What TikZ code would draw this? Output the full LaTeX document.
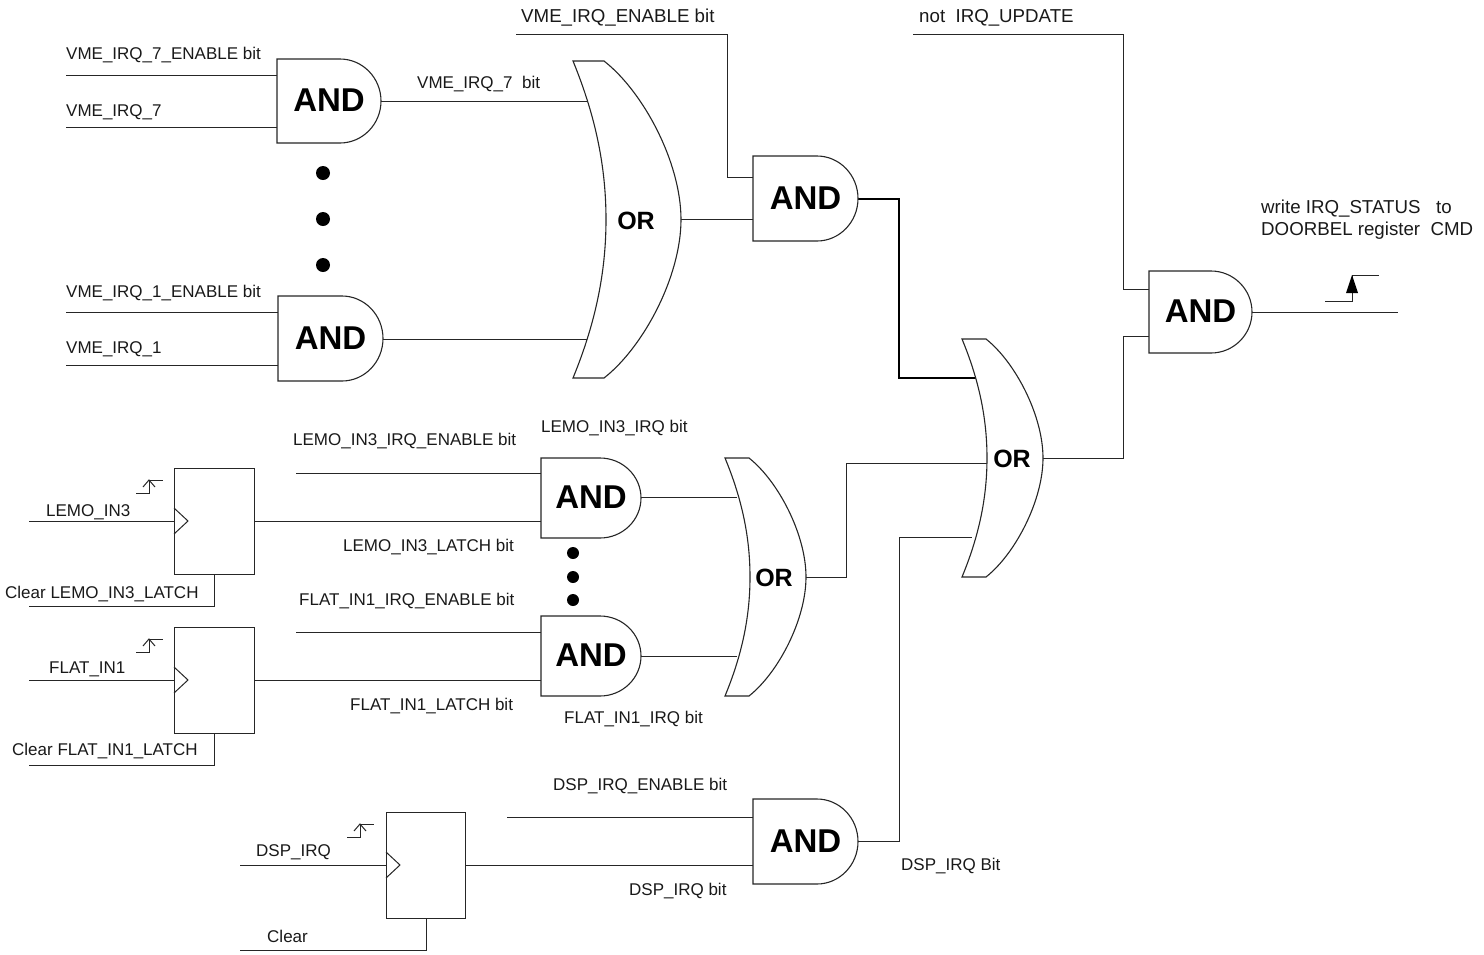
\documentclass[tikz,border=0pt]{standalone}
\usepackage{fontspec}
\setmainfont{Liberation Sans}
\tikzset{
  every picture/.style={x=1pt,y=-1pt,line join=miter},
  wire/.style={draw=black!85,line width=1pt},
  heavywire/.style={draw=black,line width=1.7pt},
  gate/.style={draw=black!85,line width=1.1pt,fill=white},
  andlabel/.style={font=\fontsize{33}{33}\selectfont\bfseries,inner sep=0pt,anchor=center},
  orlabel/.style={font=\fontsize{25}{25}\selectfont\bfseries,inner sep=0pt,anchor=center},
  lbl/.style={font=\fontsize{17}{17}\selectfont,inner sep=0pt,anchor=base west,text=black!90},
  biglbl/.style={lbl,font=\fontsize{18.7}{19}\selectfont},
  dot/.style={circle,fill=black,inner sep=0pt,minimum size=#1},
}
\newcommand{\andgate}[5]{%
  \pgfmathsetmacro\gmid{(#3+#5)/2}\pgfmathsetmacro\grad{(#5-#3)/2}%
  \draw[gate] (#2,#3) -- ({#4-41},#3) .. controls ({#4-18.4},#3) and (#4,{\gmid-0.55*\grad}) .. (#4,\gmid)
    .. controls (#4,{\gmid+0.55*\grad}) and ({#4-18.4},#5) .. ({#4-41},#5) -- (#2,#5) -- cycle;
  \node[andlabel] (#1) at ({(#2+#4)/2},{\gmid-0.5}) {AND};
}
% name, xl, xt, xin, xout, ytop, ybot, xtext
\newcommand{\orgate}[8]{%
  \pgfmathsetmacro\gmid{(#6+#7)/2}\pgfmathsetmacro\grad{(#7-#6)/2}%
  \draw[gate] (#2,#6) -- (#3,#6)
    .. controls ({#3+0.51*(#5-#3)},{#6+0.193*\grad}) and (#5,{\gmid-0.36*\grad}) .. (#5,\gmid)
    .. controls (#5,{\gmid+0.36*\grad}) and ({#3+0.51*(#5-#3)},{#7-0.193*\grad}) .. (#3,#7)
    -- (#2,#7)
    .. controls ({#2+0.68*(#4-#2)},{#7-0.345*\grad}) and (#4,{\gmid+0.335*\grad}) .. (#4,\gmid)
    .. controls (#4,{\gmid-0.335*\grad}) and ({#2+0.68*(#4-#2)},{#6+0.345*\grad}) .. (#2,#6) -- cycle;
  \node[orlabel] (#1) at (#8,{\gmid+1.3}) {OR};
}
% name, x1, y1, x2, y2
\newcommand{\latchbox}[5]{%
  \node[draw=black!85,line width=1.1pt,fill=white,inner sep=0pt,minimum width=#4-#2,minimum height=#5-#3,anchor=north west] (#1) at (#2,#3) {};
  \draw[wire] (#2,{(#3+#5)/2-13}) -- ({#2+14},{(#3+#5)/2}) -- (#2,{(#3+#5)/2+13});
}
\newcommand{\smalledge}[2]{%
  \draw[wire] (#1,#2) -- ({#1+13},#2) -- ({#1+13},{#2-13}) -- ({#1+27},{#2-13});
  \draw[wire] ({#1+7},{#2-6}) -- ({#1+13},{#2-13}) -- ({#1+19},{#2-6});
}
\newcommand{\tl}[4]{\node[lbl] (#1) at (#2,#3) {#4};}
\newcommand{\tlb}[4]{\node[biglbl] (#1) at (#2,#3) {#4};}
\begin{document}
\begin{tikzpicture}
\useasboundingbox (0,0) rectangle (1484,954);

% ---------- free wire ends and pins
\coordinate (f1a) at (66,75);   \coordinate (a1i1) at (277,75);
\coordinate (f1b) at (66,127);  \coordinate (a1i2) at (277,127);
\coordinate (a1o) at (381,101); \coordinate (o1i1) at (588,101);
\coordinate (f2a) at (66,312);  \coordinate (a2i1) at (278,312);
\coordinate (f2b) at (66,365);  \coordinate (a2i2) at (278,365);
\coordinate (a2o) at (383,339); \coordinate (o1i2) at (588,339);
\coordinate (o1o) at (681,219.5); \coordinate (a3i2) at (753,219.5);
\coordinate (f3) at (516,34);   \coordinate (b3) at (727,34); \coordinate (a3i1) at (753,177);
\coordinate (a3o) at (858,199); \coordinate (b3o) at (899,199); \coordinate (o3i1) at (977,378);
\coordinate (f4) at (913,34);   \coordinate (b4) at (1123,34); \coordinate (a4i1) at (1149,289);
\coordinate (o3o) at (1043,458); \coordinate (b5) at (1123,458); \coordinate (a4i2) at (1149,336);
\coordinate (a4o) at (1252,312); \coordinate (f5) at (1398,312);
\coordinate (f6) at (296,473);  \coordinate (a5i1) at (541,473);
\coordinate (l1o) at (254,521); \coordinate (a5i2) at (541,521);
\coordinate (f7) at (296,632);  \coordinate (a6i1) at (541,632);
\coordinate (l2o) at (254,680); \coordinate (a6i2) at (541,680);
\coordinate (a5o) at (641,497); \coordinate (o2i1) at (737,497);
\coordinate (a6o) at (641,656); \coordinate (o2i2) at (737,656);
\coordinate (o2o) at (806,577); \coordinate (b6) at (846,577); \coordinate (o3i2) at (987,463);
\coordinate (a7o) at (858,841); \coordinate (b7) at (899,841); \coordinate (o3i3) at (972,537);
\coordinate (f8) at (507,817);  \coordinate (a7i1) at (753,817);
\coordinate (l3o) at (465,865); \coordinate (a7i2) at (753,865);
\coordinate (f9) at (29,521);   \coordinate (l1c) at (174,521);
\coordinate (f10) at (29,606);  \coordinate (l1b) at (214,574);
\coordinate (f11) at (29,680);  \coordinate (l2c) at (174,680);
\coordinate (f12) at (29,765);  \coordinate (l2b) at (214,733);
\coordinate (f13) at (240,865); \coordinate (l3c) at (386,865);
\coordinate (f14) at (240,950); \coordinate (l3b) at (426,918);

% ---------- connectors
\draw[wire] (f1a) -- (a1i1);
\draw[wire] (f1b) -- (a1i2);
\draw[wire] (a1o) -- (o1i1);
\draw[wire] (f2a) -- (a2i1);
\draw[wire] (f2b) -- (a2i2);
\draw[wire] (a2o) -- (o1i2);
\draw[wire] (o1o) -- (a3i2);
\draw[wire] (f3) -- (b3) |- (a3i1);
\draw[heavywire] (a3o) -- (b3o) |- (o3i1);
\draw[wire] (f4) -- (b4) |- (a4i1);
\draw[wire] (o3o) -- (b5) |- (a4i2);
\draw[wire] (a4o) -- (f5);
\draw[wire] (f6) -- (a5i1);
\draw[wire] (l1o) -- (a5i2);
\draw[wire] (f7) -- (a6i1);
\draw[wire] (l2o) -- (a6i2);
\draw[wire] (a5o) -- (o2i1);
\draw[wire] (a6o) -- (o2i2);
\draw[wire] (o2o) -- (b6) |- (o3i2);
\draw[wire] (a7o) -- (b7) |- (o3i3);
\draw[wire] (f8) -- (a7i1);
\draw[wire] (l3o) -- (a7i2);
\draw[wire] (f9) -- (l1c);
\draw[wire] (f10) -| (l1b);
\draw[wire] (f11) -- (l2c);
\draw[wire] (f12) -| (l2b);
\draw[wire] (f13) -- (l3c);
\draw[wire] (f14) -| (l3b);

% ---------- gates
\andgate{a1}{277}{59}{381}{143}
\andgate{a2}{278}{296}{383}{381}
\andgate{a3}{753}{156}{858}{241}
\andgate{a4}{1149}{271}{1252}{353}
\andgate{a5}{541}{458}{641}{538}
\andgate{a6}{541}{616}{641}{696}
\andgate{a7}{753}{799}{858}{884}
\orgate{o1}{573}{604}{606}{681}{61}{378}{636}
\orgate{o2}{725}{749}{750}{806}{458}{696}{774}
\orgate{o3}{962}{986}{987}{1043}{339}{577}{1012}

% ---------- latches
\latchbox{l1}{174}{468}{254}{574}
\latchbox{l2}{174}{627}{254}{733}
\latchbox{l3}{386}{812}{465}{918}

% ---------- dots
\node[dot=14pt] (d1) at (323,173) {};
\node[dot=14pt] (d2) at (323,219) {};
\node[dot=14pt] (d3) at (323,265) {};
\node[dot=12pt] (d4) at (573,553) {};
\node[dot=12pt] (d5) at (573,577) {};
\node[dot=12pt] (d6) at (573,600) {};

% ---------- edge marks
\smalledge{136}{493}
\smalledge{136}{652}
\smalledge{347}{837}
\draw[wire] (1325,301) -- (1352,301) -- (1352,275) -- (1379,275);
\fill[black] (1352,275) -- (1358,293) -- (1346,293) -- cycle;

% ---------- labels
\tl{t1}{66}{59}{VME\_IRQ\_7\_ENABLE bit}
\tl{t2}{66}{116}{VME\_IRQ\_7}
\tl{t3}{417}{88}{VME\_IRQ\_7\ \ bit}
\tlb{t4}{521}{22}{VME\_IRQ\_ENABLE bit}
\tlb{t5}{919}{22}{not\ \ IRQ\_UPDATE}
\tlb{t6}{1261}{213}{write IRQ\_STATUS\ \ \ to}
\tlb{t7}{1261}{235}{DOORBEL register\ \ CMD}
\tl{t8}{66}{297}{VME\_IRQ\_1\_ENABLE bit}
\tl{t9}{66}{353}{VME\_IRQ\_1}
\tl{t10}{293}{445}{LEMO\_IN3\_IRQ\_ENABLE bit}
\tl{t11}{541}{432}{LEMO\_IN3\_IRQ bit}
\tl{t12}{46}{516}{LEMO\_IN3}
\tl{t13}{5}{598}{Clear LEMO\_IN3\_LATCH}
\tl{t14}{343}{551}{LEMO\_IN3\_LATCH bit}
\tl{t15}{299}{605}{FLAT\_IN1\_IRQ\_ENABLE bit}
\tl{t16}{49}{673}{FLAT\_IN1}
\tl{t17}{350}{710}{FLAT\_IN1\_LATCH bit}
\tl{t18}{564}{723}{FLAT\_IN1\_IRQ bit}
\tl{t19}{12}{755}{Clear FLAT\_IN1\_LATCH}
\tl{t20}{553}{790}{DSP\_IRQ\_ENABLE bit}
\tl{t21}{256}{856}{DSP\_IRQ}
\tl{t22}{629}{895}{DSP\_IRQ bit}
\tl{t23}{901}{870}{DSP\_IRQ Bit}
\tl{t24}{267}{942}{Clear}
\end{tikzpicture}
\end{document}
